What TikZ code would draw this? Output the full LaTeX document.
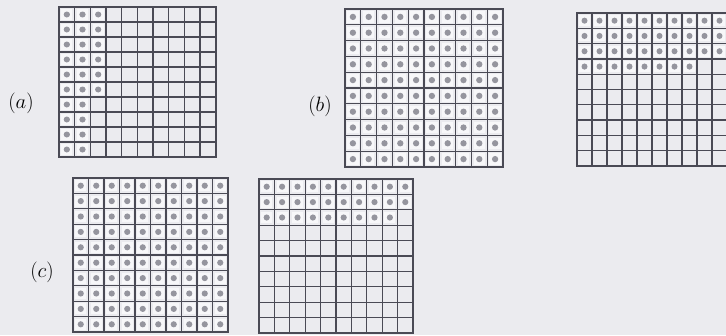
\documentclass[tikz,border=0pt]{standalone}
\usepackage{xcolor}
\usepackage{tikz}

\definecolor{pagegray}{HTML}{EBEBEF}
\definecolor{gridgray}{HTML}{4A4A55}
\definecolor{cellwhite}{HTML}{F7F7F9}
\definecolor{dotgray}{HTML}{95959E}

\begin{document}
\begin{tikzpicture}[x=1pt, y=-1pt,
    gridline/.style={draw=gridgray, line width=1.3pt},
    rim/.style={draw=gridgray, line width=1.6pt},
    cellbox/.style={fill=cellwhite},
    dotmark/.style={fill=dotgray},
    lbl/.style={font=\fontsize{21}{24}\selectfont, inner sep=0pt}]

    \fill[pagegray] (0,0) rectangle (726,335);
    \clip (0,0) rectangle (726,335);

    % left, top, cell width, cell height, shaded cells, by columns (1) or rows (0)
    \foreach \gx/\gy/\gw/\gh/\num/\bycol in {59/7/15.67/15/26/1, 345/9/15.8/15.8/100/0,
        577/13/15/15.3/38/0, 73/178/15.5/15.4/100/0, 259/179/15.4/15.4/29/0} {
      \begin{scope}[xshift=\gx pt, yshift=-\gy pt, x=\gw pt, y=-\gh pt]
        \pgfmathtruncatemacro{\last}{\num-1}
        \foreach \i in {0,...,\last} {
          \pgfmathtruncatemacro{\qa}{div(\i,10)}
          \pgfmathtruncatemacro{\qb}{mod(\i,10)}
          \ifnum\bycol=1 \edef\col{\qa}\edef\row{\qb}\else \edef\col{\qb}\edef\row{\qa}\fi
          \fill[cellbox] (\col+0.14,\row+0.14) rectangle (\col+0.86,\row+0.86);
          \fill[dotmark] (\col+0.5,\row+0.5) circle[radius=0.2];
        }
        \foreach \k in {0,...,10} {
          \draw[gridline] (\k,0) -- (\k,10);
          \draw[gridline] (0,\k) -- (10,\k);
        }
        \draw[rim] (0,0) rectangle (10,10);
      \end{scope}
    }

    \node[lbl] (lbla) at (21,103) {$(a)$};
    \node[lbl] (lblb) at (320,106) {$(b)$};
    \node[lbl] (lblc) at (42,272) {$(c)$};
\end{tikzpicture}
\end{document}
